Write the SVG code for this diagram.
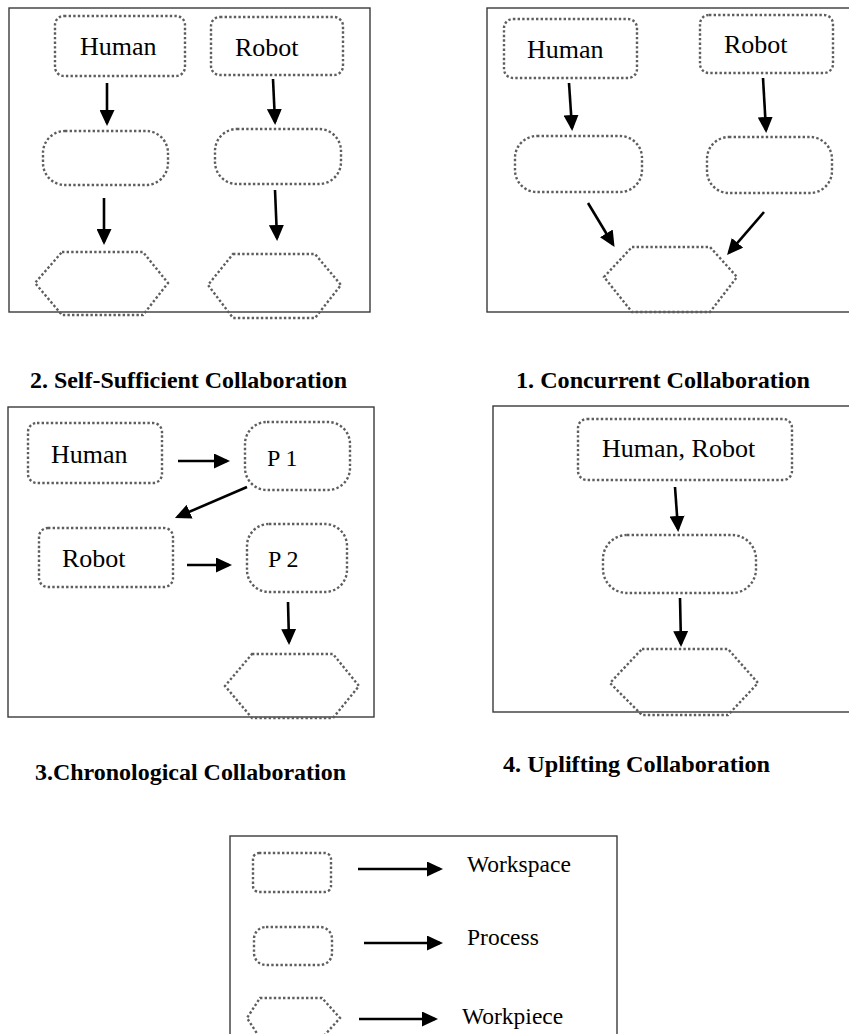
<svg xmlns="http://www.w3.org/2000/svg" width="849" height="1034" viewBox="0 0 849 1034">
  <style>
    .frame { fill: none; stroke: #3a3a3a; stroke-width: 1.4; }
    .dot { fill: none; stroke: #5e5e5e; stroke-width: 2.4; stroke-dasharray: 2.4 2.2; }
    .arrow { fill: none; stroke: #000; stroke-width: 2.6; marker-end: url(#head); }
    .lbl { font-family: "Liberation Serif", "Times New Roman", serif; font-size: 26px; fill: #000; }
    .small { font-size: 24px; }
    .leg { font-family: "Liberation Serif", "Times New Roman", serif; font-size: 23.5px; fill: #000; }
    .title { font-family: "Liberation Serif", "Times New Roman", serif; font-size: 24px; font-weight: bold; fill: #000; }
  </style>
  <defs>
    <marker id="head" viewBox="0 0 16 15" markerUnits="userSpaceOnUse" markerWidth="16" markerHeight="15" refX="13" refY="7.5" orient="auto">
      <path d="M0,0 L16,7.5 L0,15 Z" fill="#000"/>
    </marker>
  </defs>
  <rect width="849" height="1034" fill="#fff"/>

  <!-- panel frames -->
  <g id="frames">
    <rect class="frame" x="9" y="8" width="361" height="304"/>
    <rect class="frame" x="487" y="8" width="366" height="304"/>
    <rect class="frame" x="8" y="407" width="366" height="310"/>
    <rect class="frame" x="493" y="406" width="360" height="306"/>
    <rect class="frame" x="230" y="836" width="387" height="210"/>
  </g>

  <!-- panel: self-sufficient -->
  <g id="s-human"><rect class="dot" x="55" y="16" width="130" height="60" rx="9"/><text class="lbl" x="80" y="55">Human</text></g>
  <g id="s-robot"><rect class="dot" x="211" y="17" width="132" height="58" rx="9"/><text class="lbl" x="235" y="56">Robot</text></g>
  <g id="s-proc-h"><rect class="dot" x="43" y="131" width="125" height="54" rx="22"/></g>
  <g id="s-proc-r"><rect class="dot" x="215" y="129" width="126" height="55" rx="22"/></g>
  <g id="s-piece-h"><polygon class="dot" points="62,252 143,252 168,283 143,315 62,315 35,283"/></g>
  <g id="s-piece-r"><polygon class="dot" points="233,254 315,254 341,285 315,318 233,318 208,285"/></g>

  <!-- panel: concurrent -->
  <g id="c-human"><rect class="dot" x="504" y="19" width="133" height="59" rx="9"/><text class="lbl" x="527" y="58">Human</text></g>
  <g id="c-robot"><rect class="dot" x="700" y="15" width="133" height="58" rx="9"/><text class="lbl" x="724" y="53">Robot</text></g>
  <g id="c-proc-h"><rect class="dot" x="515" y="136" width="127" height="56" rx="22"/></g>
  <g id="c-proc-r"><rect class="dot" x="707" y="137" width="125" height="56" rx="22"/></g>
  <g id="c-piece"><polygon class="dot" points="632,247 710,247 737,277 710,312 632,312 604,277"/></g>

  <!-- panel: chronological -->
  <g id="t-human"><rect class="dot" x="28" y="423" width="134" height="60" rx="9"/><text class="lbl" x="51" y="463">Human</text></g>
  <g id="t-p1"><rect class="dot" x="245" y="422" width="105" height="68" rx="22"/><text class="lbl small" x="267" y="466">P 1</text></g>
  <g id="t-robot"><rect class="dot" x="39" y="528" width="134" height="59" rx="9"/><text class="lbl" x="62" y="567">Robot</text></g>
  <g id="t-p2"><rect class="dot" x="247" y="524" width="100" height="68" rx="22"/><text class="lbl small" x="268" y="567">P 2</text></g>
  <g id="t-piece"><polygon class="dot" points="252,654 333,654 359,686 333,718 252,718 225,686"/></g>

  <!-- panel: uplifting -->
  <g id="u-both"><rect class="dot" x="578" y="419" width="214" height="61" rx="9"/><text class="lbl" x="602" y="457">Human, Robot</text></g>
  <g id="u-proc"><rect class="dot" x="603" y="535" width="153" height="58" rx="24"/></g>
  <g id="u-piece"><polygon class="dot" points="642,649 728,649 758,683 728,715 642,715 610,683"/></g>

  <!-- legend -->
  <g id="key-workspace"><rect class="dot" x="253" y="853" width="78" height="39" rx="6"/><text class="leg" x="467" y="872">Workspace</text></g>
  <g id="key-process"><rect class="dot" x="254" y="927" width="78" height="38" rx="12"/><text class="leg" x="467" y="945">Process</text></g>
  <g id="key-workpiece"><polygon class="dot" points="260,998 322,998 340,1018 322,1038 260,1038 247,1018"/><text class="leg" x="462" y="1024">Workpiece</text></g>

  <!-- connectors -->
  <g id="connectors">
    <line class="arrow" x1="107" y1="83" x2="107" y2="123"/>
    <line class="arrow" x1="104" y1="198" x2="104" y2="242"/>
    <line class="arrow" x1="273" y1="79" x2="275" y2="122"/>
    <line class="arrow" x1="275" y1="190" x2="277" y2="238"/>

    <line class="arrow" x1="569" y1="83" x2="572" y2="128"/>
    <line class="arrow" x1="763" y1="78" x2="766" y2="130"/>
    <line class="arrow" x1="588" y1="203" x2="613" y2="244.5"/>
    <line class="arrow" x1="764" y1="212" x2="729" y2="252.7"/>

    <line class="arrow" x1="178" y1="461" x2="227" y2="461"/>
    <line class="arrow" x1="247" y1="487" x2="177.7" y2="516.8"/>
    <line class="arrow" x1="187" y1="565" x2="229" y2="565"/>
    <line class="arrow" x1="288" y1="602" x2="289" y2="642"/>

    <line class="arrow" x1="675" y1="487" x2="678" y2="529"/>
    <line class="arrow" x1="680" y1="598" x2="681" y2="644"/>

    <line class="arrow" x1="358" y1="869" x2="440" y2="869"/>
    <line class="arrow" x1="364" y1="943" x2="440" y2="943"/>
    <line class="arrow" x1="359" y1="1019" x2="435" y2="1019"/>
  </g>

  <!-- captions -->
  <g id="captions">
    <text class="title" x="30" y="388" textLength="317" lengthAdjust="spacingAndGlyphs">2. Self-Sufficient Collaboration</text>
    <text class="title" x="516" y="388" textLength="294" lengthAdjust="spacingAndGlyphs">1. Concurrent Collaboration</text>
    <text class="title" x="35" y="780" textLength="311" lengthAdjust="spacingAndGlyphs">3.Chronological Collaboration</text>
    <text class="title" x="503" y="772" textLength="267" lengthAdjust="spacingAndGlyphs">4. Uplifting Collaboration</text>
  </g>
</svg>
